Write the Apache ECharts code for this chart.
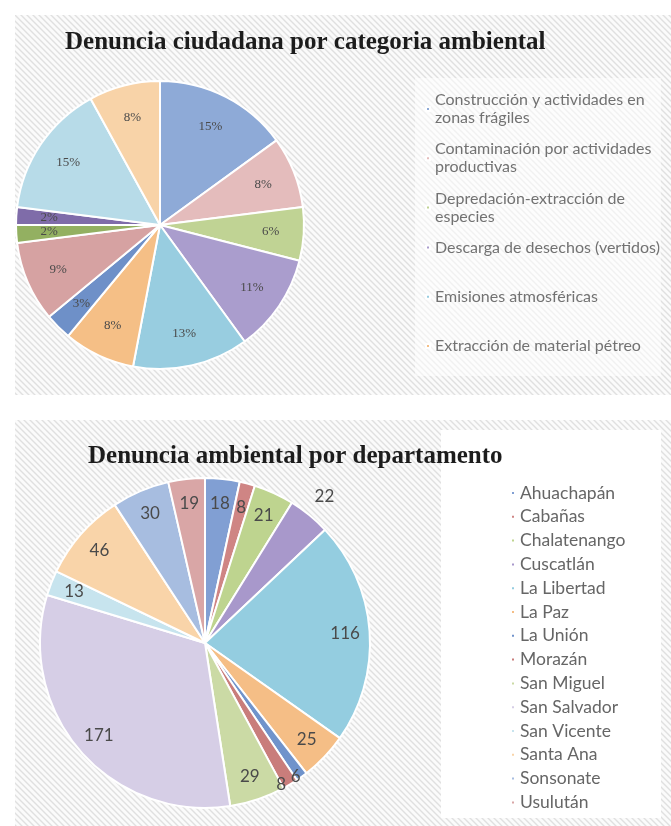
<!DOCTYPE html>
<html>
<head>
<meta charset="utf-8">
<script src="https://cdn.jsdelivr.net/npm/echarts@6/dist/echarts.min.js"></script>
<style>
  html, body { margin: 0; padding: 0; background: #fff; }
  #main { width: 671px; height: 826px; }
</style>
</head>
<body>
<div id="main"></div>
<script>
// top chart: denuncias por categoria (percentages)
const catNames = [
  'Construcción y actividades en zonas frágiles',
  'Contaminación por actividades productivas',
  'Depredación-extracción de especies',
  'Descarga de desechos (vertidos)',
  'Emisiones atmosféricas',
  'Extracción de material pétreo',
  'Categoría 7', 'Categoría 8', 'Categoría 9',
  'Categoría 10', 'Categoría 11', 'Categoría 12'
];
const catShares = [15, 8, 6, 11, 13, 8, 3, 9, 2, 2, 15, 8];
const catColors = ['#8eaad7', '#e4bcbc', '#c0d394', '#aa9dcd', '#98cde0', '#f5bf86',
  '#6e90c8', '#d6a2a2', '#93b061', '#7f6ca9', '#b7dbe8', '#f8d3a8'];

// bottom chart: denuncias por departamento (counts)
const deptNames = ['Ahuachapán', 'Cabañas', 'Chalatenango', 'Cuscatlán', 'La Libertad', 'La Paz',
  'La Unión', 'Morazán', 'San Miguel', 'San Salvador', 'San Vicente', 'Santa Ana',
  'Sonsonate', 'Usulután'];
const deptCounts = [18, 8, 21, 22, 116, 25, 6, 8, 29, 171, 13, 46, 30, 19];
const deptColors = ['#819fd3', '#cf8584', '#bed48f', '#a898cb', '#94cde0', '#f5be86',
  '#7093cb', '#c97d7b', '#cbdaa5', '#d6cee6', '#c7e4ee', '#f9d4a9',
  '#a7bde0', '#d9a6a6'];

// diagonal hatch like the original slide background
function hatch() {
  const c = document.createElement('canvas');
  c.width = 6; c.height = 6;
  const g = c.getContext('2d');
  g.fillStyle = '#fbfbfb';
  g.fillRect(0, 0, 6, 6);
  g.strokeStyle = '#e0e0e0';
  g.lineWidth = 1.4;
  g.beginPath();
  g.moveTo(-1, -1); g.lineTo(7, 7);
  g.moveTo(-4, 2); g.lineTo(4, 10);
  g.moveTo(2, -4); g.lineTo(10, 4);
  g.stroke();
  return c;
}
const pat = { image: hatch(), repeat: 'repeat' };

const chart = echarts.init(document.getElementById('main'));

const catData = catNames.map((n, i) => ({ name: n, value: catShares[i], itemStyle: { color: catColors[i] } }));
const deptData = deptNames.map((n, i) => ({ name: n, value: deptCounts[i], itemStyle: { color: deptColors[i] } }));

// labels that sit off the default ring (outside / near the rim)
const labelTweaks = {
  'Cuscatlán': { length: 24, dist: -10 },
  'La Unión': { length: 0, dist: -11 },
  'Morazán': { length: 0, dist: -14 }
};

// transparent ring just to place the labels further out than 'inside' would
const deptLabelData = deptNames.map((n, i) => {
  const d = { name: n, value: deptCounts[i] };
  const t = labelTweaks[n];
  if (t) {
    d.label = { position: 'outside', distanceToLabelLine: t.dist };
    d.labelLine = { show: false, length: t.length, length2: 0 };
  }
  return d;
});

const titleFont = { fontFamily: 'Liberation Serif', fontWeight: 'bold', fontSize: 25, color: '#1c1c1c' };

const option = {
  animation: false,
  graphic: [
    { type: 'rect', shape: { x: 15, y: 15, width: 656, height: 380 }, style: { fill: pat }, z: 0 },
    { type: 'rect', shape: { x: 15, y: 420, width: 656, height: 406 }, style: { fill: pat }, z: 0 },
    { type: 'rect', shape: { x: 415, y: 78, width: 246, height: 298 }, style: { fill: 'rgba(255,255,255,0.55)' }, z: 0 },
    { type: 'rect', shape: { x: 441, y: 430, width: 220, height: 388 }, style: { fill: '#ffffff' }, z: 0 }
  ],
  title: [
    { text: 'Denuncia ciudadana por categoria ambiental', left: 60, top: 25, textStyle: titleFont },
    { text: 'Denuncia ambiental por departamento', left: 83, top: 439, textStyle: titleFont }
  ],
  legend: catNames.slice(0, 6).map((n, i) => ({
    data: [n],
    orient: 'vertical',
    left: 420,
    top: 86 + i * 49.2,
    icon: 'rect',
    itemWidth: 4, itemHeight: 4,
    selectedMode: false,
    textStyle: { fontFamily: 'Lato', fontSize: 16, color: '#727272', width: 232, overflow: 'break', lineHeight: 18 }
  })).concat([{
    data: deptNames,
    orient: 'vertical',
    left: 505,
    top: 478,
    icon: 'rect',
    itemWidth: 4, itemHeight: 4,
    itemGap: 3.8,
    selectedMode: false,
    textStyle: { fontFamily: 'Lato', fontSize: 17.5, color: '#666', lineHeight: 20 }
  }]),
  series: [
    {
      type: 'pie',
      center: [160, 225],
      radius: 144,
      startAngle: 90,
      data: catData,
      label: { show: false },
      labelLine: { show: false },
      itemStyle: { borderColor: '#fff', borderWidth: 2 },
      silent: true
    },
    {
      type: 'pie',
      center: [160, 225],
      radius: [72, 144],
      startAngle: 90,
      data: catNames.map((n, i) => ({ name: n, value: catShares[i] })),
      itemStyle: { color: 'rgba(0,0,0,0)' },
      label: {
        position: 'inside',
        formatter: p => p.value + '%',
        fontFamily: 'Liberation Serif', fontSize: 13, color: '#4a4a4a'
      },
      labelLine: { show: false },
      silent: true
    },
    {
      type: 'pie',
      center: [205, 643],
      radius: 165,
      startAngle: 90,
      data: deptData,
      label: { show: false },
      labelLine: { show: false },
      itemStyle: { borderColor: '#fff', borderWidth: 2 },
      silent: true
    },
    {
      type: 'pie',
      center: [205, 643],
      radius: [110, 165],
      startAngle: 90,
      data: deptLabelData,
      itemStyle: { color: 'rgba(0,0,0,0)' },
      label: {
        position: 'inside',
        formatter: '{c}',
        fontFamily: 'Lato', fontSize: 17, color: '#4a4a4a'
      },
      labelLine: { show: false },
      avoidLabelOverlap: false,
      silent: true
    }
  ]
};

chart.setOption(option);
</script>
</body>
</html>
